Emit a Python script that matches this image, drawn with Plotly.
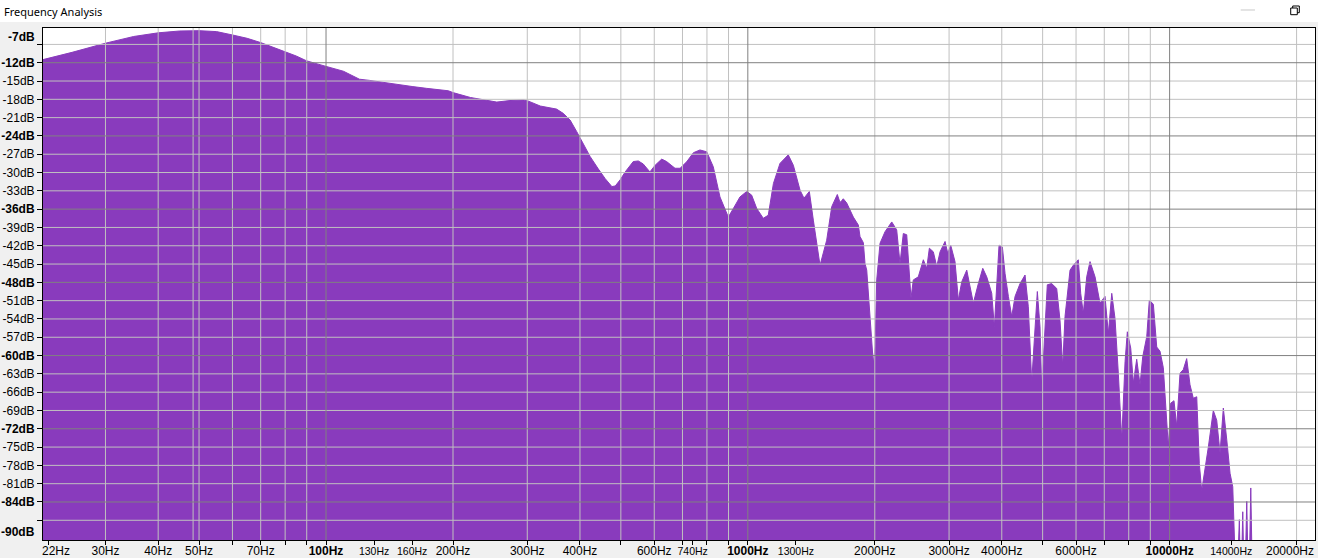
import math
import plotly.graph_objects as go

# ---------------- data ----------------
freq_hz = [
    21.3, 25, 30, 35, 40, 45, 50, 55, 60, 65,
    70, 75, 80, 85, 90, 95, 100, 110, 120, 127,
    144, 160, 173, 195, 200, 220, 254, 273, 294, 302,
    322, 352, 365, 379, 393, 404, 423, 442, 459, 476,
    485, 498, 512, 535, 550, 565, 586, 603, 625, 642,
    672, 691, 717, 743, 770, 799, 828, 859, 883, 899,
    924, 958, 994, 1021, 1050, 1088, 1118, 1150, 1192, 1247,
    1282, 1330, 1359, 1399, 1430, 1470, 1483, 1538, 1581, 1630,
    1654, 1670, 1684, 1716, 1731, 1779, 1828, 1845, 1879, 1896,
    1914, 1949, 1984, 2003, 2021, 2058, 2115, 2194, 2254, 2295,
    2337, 2381, 2415, 2437, 2468, 2536, 2607, 2655, 2694, 2753,
    2805, 2856, 2935, 2979, 3027, 3099, 3156, 3215, 3304, 3364,
    3425, 3520, 3606, 3685, 3787, 3841, 3892, 3941, 4013, 4073,
    4147, 4224, 4301, 4420, 4542, 4624, 4711, 4797, 4857, 4929,
    4975, 5038, 5129, 5253, 5399, 5497, 5579, 5649, 5806, 5911,
    6075, 6155, 6243, 6360, 6476, 6656, 6839, 7029, 7157, 7292,
    7424, 7559, 7701, 7841, 7939, 8088, 8203, 8356, 8508, 8635,
    8826, 8952, 9151, 9321, 9490, 9663, 9845, 9931, 10060, 10242,
    10395, 10585, 10777, 10977, 11178, 11381, 11596, 11760, 11915, 12131,
    12354, 12694, 12933, 13169, 13408, 13660, 13909, 14115, 14295, 14400,
    14635, 14750, 14908, 15050, 15237, 15400, 15574, 15744, 22150,
]
level_db = [
    -11.5, -10.3, -8.8, -7.7, -7.1, -6.8, -6.75, -6.9, -7.45, -8.0,
    -8.7, -9.5, -10.2, -10.9, -11.7, -12.2, -12.6, -13.4, -14.7, -14.9,
    -15.5, -15.9, -16.2, -16.6, -16.9, -17.7, -18.45, -18.2, -18.1, -18.3,
    -19.1, -19.6, -20.3, -21.4, -23.3, -24.9, -27.4, -29.4, -31.0, -32.3,
    -32.2, -31.2, -29.9, -28.2, -28.1, -28.6, -29.9, -28.8, -27.8, -28.2,
    -29.3, -29.3, -28.2, -26.75, -26.3, -26.6, -29.05, -34.0, -36.1, -37.3,
    -35.9, -34.0, -33.1, -33.7, -35.9, -37.5, -37.0, -31.8, -28.5, -27.1,
    -28.8, -32.9, -34.2, -33.1, -37.8, -43.8, -45.2, -41.1, -35.6, -33.6,
    -34.9, -34.6, -34.3, -35.0, -35.5, -37.3, -38.6, -40.5, -41.5, -44.9,
    -46.0, -54.2, -61.3, -58.6, -47.6, -41.6, -39.7, -38.1, -39.4, -44.9,
    -40.0, -40.2, -47.1, -50.6, -47.6, -47.1, -44.3, -45.7, -42.4, -43.0,
    -45.4, -43.0, -41.3, -43.25, -41.9, -44.6, -50.9, -47.9, -46.0, -48.7,
    -51.4, -48.2, -45.7, -47.1, -49.8, -55.3, -47.9, -41.9, -42.2, -46.6,
    -50.3, -53.6, -50.3, -48.2, -46.8, -52.0, -64.3, -54.2, -49.5, -55.3,
    -65.65, -58.6, -48.4, -48.2, -49.0, -54.2, -61.8, -53.6, -46.0, -45.2,
    -44.3, -49.8, -53.1, -47.1, -44.6, -47.1, -51.4, -50.3, -56.4, -49.8,
    -54.0, -63.0, -73.8, -61.0, -56.1, -58.8, -64.5, -60.6, -64.8, -60.2,
    -56.9, -50.9, -51.6, -58.6, -59.3, -62.0, -70.6, -75.0, -67.8, -67.4,
    -71.6, -62.9, -62.3, -60.5, -64.8, -67.0, -66.75, -77.7, -82.1, -78.8,
    -75.0, -69.0, -70.6, -76.0, -68.6, -73.8, -79.3, -81.5, -100, -100,
    -86.9, -100, -85.6, -100, -83.9, -100, -81.7, -100, -100,
]

# x-axis ruler
x_tick_vals = [22, 30, 40, 50, 60, 70, 80, 90, 100, 130, 160, 200, 300, 400,
               500, 600, 700, 740, 800, 900, 1000, 1300, 2000, 3000, 4000,
               5000, 6000, 7000, 8000, 9000, 10000, 14000, 20000]
x_tick_labels = ["22Hz", "30Hz", "40Hz", "50Hz", "", "70Hz", "", "", "100Hz",
                 "130Hz", "160Hz", "200Hz", "300Hz", "400Hz", "", "600Hz", "",
                 "740Hz", "", "", "1000Hz", "1300Hz", "2000Hz", "3000Hz",
                 "4000Hz", "", "6000Hz", "", "", "", "10000Hz", "14000Hz",
                 "20000Hz"]
x_bold_labels = ["100Hz", "1000Hz", "10000Hz"]
x_small_labels = ["130Hz", "160Hz", "740Hz", "1300Hz", "14000Hz"]
# end labels that the ruler pushes inward so they stay on screen
x_edge_labels = ["22Hz", "20000Hz"]
x_edge_label_pos = [0.0102, 0.9803]   # paper fraction of label centre

# vertical grid lines
grid_minor_hz = [30, 40, 48.4, 50, 60, 70, 80, 90, 200, 300, 400, 500, 600,
                 700, 800, 900, 2000, 3000, 4000, 5000, 6000, 7000, 8000,
                 9000, 20000]
grid_major_hz = [100, 1000, 10000]

# y-axis ruler
y_tick_vals = [-9, -12, -15, -18, -21, -24, -27, -30, -33, -36, -39, -42, -45,
               -48, -51, -54, -57, -60, -63, -66, -69, -72, -75, -78, -81, -84,
               -87]
y_major_db = [-12, -24, -36, -48, -60, -72, -84]
y_unlabeled_db = [-9, -87]
y_end_labels = ["-7dB", "-90dB"]
y_end_label_pos = [-7.8, -88.9]

# ---------------- styling ----------------
PURPLE = "rgb(137,59,189)"
GRID_MINOR = "rgb(192,192,192)"
GRID_MAJOR = "rgb(128,128,128)"
FONT = "Liberation Sans, Arial, sans-serif"

x_lo, x_hi = 21.33, 22115.0
y_lo, y_hi = -90.23, -6.31


def x_text(lbl):
    if lbl in x_edge_labels:
        return ""
    if lbl in x_bold_labels:
        return "<b>" + lbl + "</b>"
    if lbl in x_small_labels:
        return "<span style='font-size:10.5px'>" + lbl + "</span>"
    return lbl


def y_text(v):
    if v in y_unlabeled_db:
        return ""
    s = "%ddB" % v
    return "<b>" + s + "</b>" if v in y_major_db else s


fig = go.Figure()

# baseline for the fill
fig.add_trace(go.Scatter(x=[freq_hz[0], freq_hz[-1]], y=[-200, -200],
                         mode="lines", line=dict(width=0, color=PURPLE),
                         hoverinfo="skip", showlegend=False))
# spectrum
fig.add_trace(go.Scatter(x=freq_hz, y=level_db, mode="lines", fill="tonexty",
                         fillcolor=PURPLE, line=dict(color=PURPLE, width=1),
                         hoverinfo="skip", showlegend=False))


def v_lines(vals):
    xs, ys = [], []
    for v in vals:
        xs += [v, v, None]
        ys += [y_lo - 10, y_hi + 10, None]
    return xs, ys


def h_lines(vals):
    xs, ys = [], []
    for v in vals:
        xs += [x_lo / 2, x_hi * 2, None]
        ys += [v, v, None]
    return xs, ys


minor_db = [v for v in y_tick_vals if v not in y_major_db]
for xs, ys, col in [
    (*h_lines(minor_db), GRID_MINOR),
    (*v_lines(grid_minor_hz), GRID_MINOR),
    (*h_lines(y_major_db), GRID_MAJOR),
    (*v_lines(grid_major_hz), GRID_MAJOR),
]:
    fig.add_trace(go.Scatter(x=xs, y=ys, mode="lines",
                             line=dict(color=col, width=1),
                             hoverinfo="skip", showlegend=False))

fig.update_xaxes(
    type="log", range=[math.log10(x_lo), math.log10(x_hi)],
    tickmode="array", tickvals=x_tick_vals,
    ticktext=[x_text(t) for t in x_tick_labels],
    ticks="outside", ticklen=4, tickwidth=1, tickcolor="black",
    ticklabelstandoff=-4,
    showgrid=False, zeroline=False, showline=True, linecolor="black",
    linewidth=1, mirror=True, layer="above traces", automargin=False,
    tickfont=dict(family=FONT, size=12, color="black"),
)
fig.update_yaxes(
    range=[y_lo, y_hi], tickmode="array", tickvals=y_tick_vals,
    ticktext=[y_text(v) for v in y_tick_vals],
    ticks="outside", ticklen=5, tickwidth=1, tickcolor="black",
    showgrid=False, zeroline=False, showline=True, linecolor="black",
    linewidth=1, mirror=True, layer="above traces", automargin=False,
    tickfont=dict(family=FONT, size=12, color="black"),
)

annotations = []
for txt, pos in zip(y_end_labels, y_end_label_pos):
    annotations.append(dict(text="<b>" + txt + "</b>", x=0, xref="paper",
                            y=pos, yref="y", xanchor="right", yanchor="middle",
                            xshift=-6, showarrow=False,
                            font=dict(family=FONT, size=12, color="black")))
for txt, pos in zip(x_edge_labels, x_edge_label_pos):
    annotations.append(dict(text=txt, x=pos, xref="paper", y=-0.0215,
                            yref="paper", xanchor="center", yanchor="middle",
                            showarrow=False,
                            font=dict(family=FONT, size=12, color="black")))
annotations.append(dict(text="Frequency Analysis", x=-0.0322, xref="paper",
                        y=1.0332, yref="paper", xanchor="left",
                        yanchor="middle", showarrow=False,
                        font=dict(family="Noto Sans", size=11, color="black")))

shapes = [
    # white title strip
    dict(type="rect", xref="paper", yref="paper", x0=-0.05, x1=1.02,
         y0=1.0117, y1=1.07, fillcolor="white", line=dict(width=0),
         layer="below"),
    # minimise glyph
    dict(type="line", xref="paper", yref="paper", x0=0.94159, x1=0.95283,
         y0=1.03516, y1=1.03516, line=dict(color="rgb(200,200,200)", width=1)),
    # restore glyph (back square then front square)
    dict(type="rect", xref="paper", yref="paper", x0=0.98247, x1=0.98766,
         y0=1.02988, y1=1.04297, fillcolor="white",
         line=dict(color="black", width=1)),
    dict(type="rect", xref="paper", yref="paper", x0=0.98090, x1=0.98609,
         y0=1.02598, y1=1.03906, fillcolor="white",
         line=dict(color="black", width=1)),
]

fig.update_layout(
    width=1318, height=558,
    margin=dict(l=43, r=3, t=28, b=18, pad=0),
    paper_bgcolor="#f0f0f0", plot_bgcolor="white",
    showlegend=False, annotations=annotations, shapes=shapes,
    hovermode=False,
)

fig.write_html(
    "out.html",
    config={"displayModeBar": False},
    post_script="document.body.style.margin='0';"
                "document.body.style.overflow='hidden';",
)
